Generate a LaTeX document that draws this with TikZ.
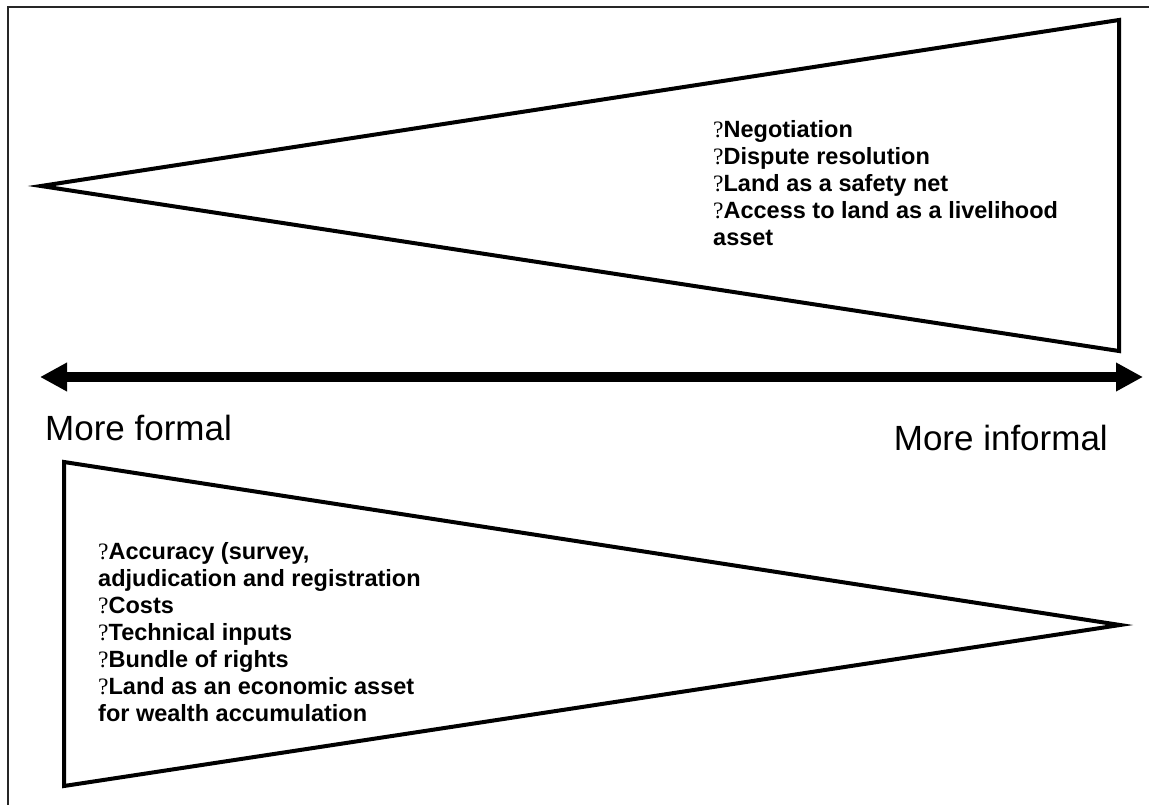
\documentclass[tikz,border=0pt]{standalone}
\usepackage{fontspec}
\setmainfont{Liberation Serif}
\setsansfont{Liberation Sans}
\usetikzlibrary{arrows.meta}
\newcommand{\qm}{{\rmfamily\mdseries ?}}

\begin{document}
\begin{tikzpicture}[x=1pt, y=-1pt,
        wedge/.style={line width=4pt, line join=miter},
        itemlist/.style={font=\sffamily\bfseries\fontsize{23.5}{27}\selectfont, align=left, inner sep=0pt, anchor=north west},
        endlabel/.style={font=\sffamily\fontsize{35}{40}\selectfont, inner sep=0pt}]
        \useasboundingbox (0,0) rectangle (1149,805);
        % Frame
        \draw[line width=2pt, black!85] (8,812) -- (8,7) -- (1156,7);

        % Draw the wedges
        \draw[wedge] (41,186) -- (1119,20) -- (1119,351) -- cycle;
        \draw[wedge] (64,462) -- (1120,625) -- (64,786) -- cycle;

        % Draw the nodes
        \coordinate (formalend) at (40,377);
        \coordinate (informalend) at (1143,377);
        \node[endlabel, anchor=base west] (formal) at (45,440) {More formal};
        \node[endlabel, anchor=base east] (informal) at (1108,450) {More informal};
        \node[itemlist] (informalitems) at (713,120) {\qm Negotiation\\ \qm Dispute resolution\\ \qm Land as a safety net\\ \qm Access to land as a livelihood\\ asset};
        \node[itemlist] (formalitems) at (98,542) {\qm Accuracy (survey,\\ adjudication and registration\\ \qm Costs\\ \qm Technical inputs\\ \qm Bundle of rights\\ \qm Land as an economic asset\\ for wealth accumulation};

        % Draw the arrow
        \draw[line width=10pt, {Triangle[length=27pt, width=27pt]}-{Triangle[length=27pt, width=27pt]}] (formalend) -- (informalend);
    \end{tikzpicture}
\end{document}
